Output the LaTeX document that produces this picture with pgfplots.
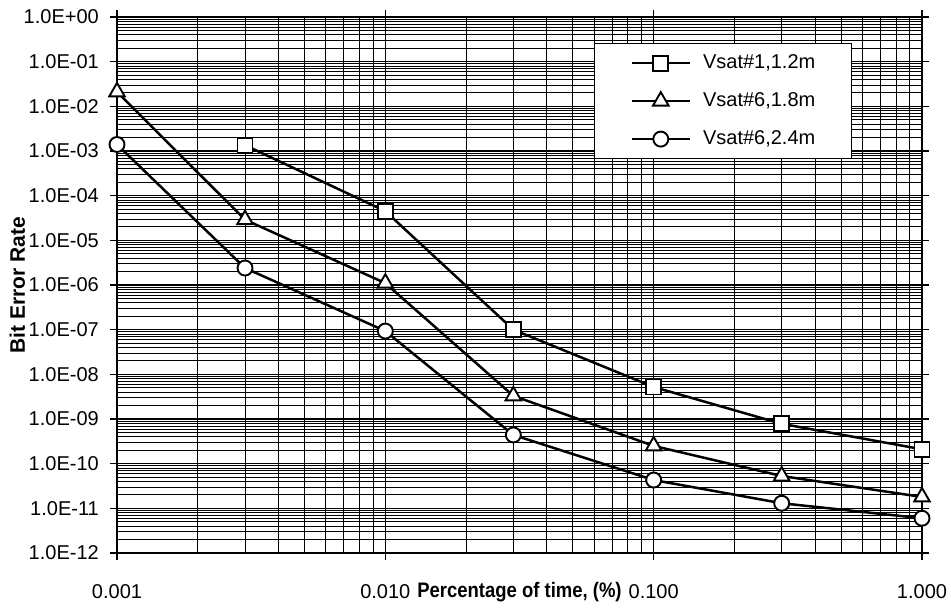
\documentclass[border=0pt]{standalone}
\usepackage{fontspec}
\setmainfont{Liberation Sans}
\usepackage{graphicx}
\usepackage{pgfplots}
\pgfplotsset{compat=1.18}
\begin{document}
\begin{tikzpicture}[x=1pt,y=1pt]
\useasboundingbox (0,0) rectangle (951,611);
\begin{axis}[
  at={(117pt,58pt)}, anchor=south west,
  scale only axis, width=805pt, height=536pt,
  xmode=log, ymode=log,
  xmin=0.001, xmax=1, ymin=1e-12, ymax=1,
  xtickten={-3,-2,-1,0},
  xticklabels={0.001,0.010,0.100,1.000},
  ytickten={-12,-11,-10,-9,-8,-7,-6,-5,-4,-3,-2,-1,0},
  yticklabels={1.0E-12,1.0E-11,1.0E-10,1.0E-09,1.0E-08,1.0E-07,1.0E-06,1.0E-05,1.0E-04,1.0E-03,1.0E-02,1.0E-01,1.0E+00},
  grid=both,
  major grid style={black, line width=1.6pt},
  minor grid style={black, line width=0.8pt},
  axis line style={black, line width=2.6pt},
  tick align=outside,
  major tick length=7pt, minor tick length=0pt,
  every tick/.style={black, line width=1.5pt},
  tick label style={font=\fontsize{20}{24}\selectfont, inner sep=0pt},
  yticklabel style={anchor=east, xshift=-11pt},
  xticklabel style={anchor=north, yshift=-24pt},
  xlabel={\scalebox{0.88}[1]{\bfseries Percentage of time, (\%)}},
  ylabel={\bfseries Bit Error Rate},
  label style={font=\fontsize{21}{24}\selectfont},
  xlabel style={at={(axis description cs:0.5,-0.0835)}, anchor=base, inner sep=0pt},
  ylabel style={at={(axis description cs:-0.1143,0.5)}, anchor=base, inner sep=0pt},
  legend style={at={(0.5925,0.9515)}, anchor=north west, draw=black, line width=1.2pt,
    fill=white, font=\fontsize{20}{24}\selectfont,
    inner xsep=36pt, inner ysep=10pt, row sep=19pt, column sep=12pt,
    nodes={inner sep=0pt, text height=15pt, text depth=4pt}},
  legend cell align=left,
  legend image code/.code={\draw[#1, mark repeat=2, mark phase=2] plot coordinates {(0pt,0pt) (29pt,0pt) (58pt,0pt)};},
  every axis plot/.append style={black, line width=2.5pt, mark options={solid, fill=white, line width=1.9pt}},
]
\addplot[mark=square*, mark size=7.5pt] coordinates {
  (0.003,1.35e-3) (0.01,4.5e-5) (0.03,1.0e-7) (0.1,5.2e-9) (0.3,7.8e-10) (1,2.1e-10)};
\addlegendentry{Vsat\#1,1.2m}
\addplot[mark=triangle*, mark size=9pt] coordinates {
  (0.001,2.1e-2) (0.003,2.9e-5) (0.01,1.1e-6) (0.03,3.3e-9) (0.1,2.5e-10) (0.3,5.3e-11) (1,1.8e-11)};
\addlegendentry{Vsat\#6,1.8m}
\addplot[mark=*, mark size=7.5pt] coordinates {
  (0.001,1.4e-3) (0.003,2.4e-6) (0.01,9.3e-8) (0.03,4.4e-10) (0.1,4.3e-11) (0.3,1.3e-11) (1,6e-12)};
\addlegendentry{Vsat\#6,2.4m}
\end{axis}
\end{tikzpicture}
\end{document}
